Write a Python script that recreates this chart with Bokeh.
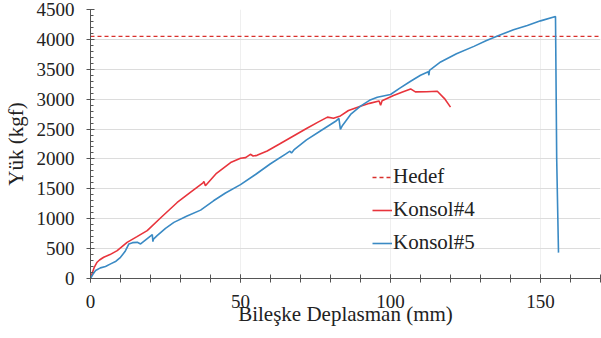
from bokeh.plotting import figure
from bokeh.models import Range1d, FixedTicker, Legend, LegendItem
from bokeh.embed import file_html
from bokeh.resources import INLINE

# Konsol#4 (red)
k4_x = [0, 0.5, 1.2, 2.2, 3, 4.4, 6.5, 8.9, 12.2, 15.5, 18.9, 23.5, 28.9, 33.5, 37.5, 37.8, 38.3,
        42, 46.7, 50, 51.7, 53.3, 54.2, 55.5, 58.9, 63, 67.5, 72, 76, 79, 81, 83.3, 86, 90, 93,
        96.2, 96.7, 97.2, 101, 104, 106.7, 108.3, 112, 115.6, 118, 120]
k4_y = [0, 80, 180, 272, 310, 355, 400, 467, 605, 700, 800, 1020, 1272, 1450, 1600, 1622, 1550,
        1760, 1939, 2011, 2022, 2078, 2050, 2060, 2133, 2250, 2380, 2510, 2620, 2700, 2680, 2720,
        2810, 2883, 2930, 2970, 2900, 2975, 3060, 3120, 3172, 3122, 3125, 3133, 3010, 2867]

# Konsol#5 (blue)
k5_x = [0, 0.8, 1.7, 3.3, 5, 6.7, 8.5, 10, 11.5, 12.8, 14, 15.6, 16.7, 18.5, 20.6, 20.8, 21,
        22.2, 25, 27.8, 32, 36.7, 41, 45, 50, 55, 60, 65, 66.5, 67, 67.8, 72, 77, 81.7, 82.8,
        83.3, 84, 86.7, 90, 93, 95.6, 100, 103, 106.7, 110, 112.6, 112.8, 113, 116.7, 122,
        127.8, 132, 136.7, 141, 145.6, 150, 155, 155.4, 156]
k5_y = [0, 70, 133, 178, 200, 245, 290, 355, 450, 578, 600, 605, 578, 650, 733, 617, 660,
        717, 840, 939, 1040, 1144, 1300, 1430, 1570, 1740, 1920, 2080, 2130, 2100, 2150, 2320,
        2480, 2630, 2680, 2494, 2560, 2744, 2883, 2980, 3033, 3078, 3180, 3300, 3400, 3460,
        3400, 3480, 3622, 3760, 3883, 3980, 4078, 4160, 4233, 4310, 4383, 2000, 433]

hedef = 4050
x_ticks = [0, 50, 100, 150]
y_ticks = [0, 500, 1000, 1500, 2000, 2500, 3000, 3500, 4000, 4500]

FONT = "Liberation Serif"
RED = "#e8343c"
BLUE = "#3a8ac4"

p = figure(width=601, height=338, output_backend="svg", toolbar_location=None,
           x_range=Range1d(0, 170), y_range=Range1d(0, 4500),
           min_border_left=90, min_border_right=1, min_border_top=9, min_border_bottom=60)
p.outline_line_color = None
p.background_fill_color = "white"

hx = [p.x_range.start, p.x_range.end]
r_h = p.line(hx, [hedef, hedef], line_color="#d9302c", line_dash="4 3", line_width=1.3)
r4 = p.line(k4_x, k4_y, line_color=RED, line_width=1.6)
r5 = p.line(k5_x, k5_y, line_color=BLUE, line_width=1.6)

p.xaxis.ticker = FixedTicker(ticks=x_ticks, minor_ticks=list(range(0, 171, 10)))
p.yaxis.ticker = FixedTicker(ticks=y_ticks, minor_ticks=list(range(0, 4501, 100)))

p.xgrid.ticker = FixedTicker(ticks=[50, 100, 150])
p.xgrid.grid_line_color = "#efefef"
p.ygrid.grid_line_color = "#dcdcdc"

p.xaxis.axis_line_color = "#555555"
p.yaxis.axis_line_color = "#555555"
p.xaxis.major_tick_line_color = "#555555"
p.yaxis.major_tick_line_color = "#555555"
p.xaxis.minor_tick_line_color = "#555555"
p.yaxis.minor_tick_line_color = "#555555"
p.xaxis.major_label_text_font = FONT
p.yaxis.major_label_text_font = FONT
p.xaxis.major_label_text_font_size = "19px"
p.yaxis.major_label_text_font_size = "19px"
p.xaxis.major_label_text_color = "#222222"
p.yaxis.major_label_text_color = "#222222"
p.xaxis.axis_label_text_font = FONT
p.yaxis.axis_label_text_font = FONT
p.xaxis.axis_label_text_font_size = "21px"
p.yaxis.axis_label_text_font_size = "21px"
p.xaxis.axis_label_text_font_style = "normal"
p.yaxis.axis_label_text_font_style = "normal"
p.xaxis.axis_label_text_color = "#222222"
p.yaxis.axis_label_text_color = "#222222"

p.xaxis.major_tick_in = 4
p.xaxis.major_tick_out = 4
p.xaxis.minor_tick_in = 4
p.xaxis.minor_tick_out = 4
p.xaxis.major_label_standoff = 12
p.xaxis.axis_label = "Bileşke Deplasman (mm)"
p.xaxis.axis_label_standoff = -9

p.yaxis.major_tick_in = 4
p.yaxis.major_tick_out = 4
p.yaxis.minor_tick_in = 3
p.yaxis.minor_tick_out = 0
p.yaxis.major_label_standoff = 12
p.yaxis.axis_label = "Yük (kgf)"
p.yaxis.axis_label_standoff = 6

legend = Legend(items=[LegendItem(label="Hedef", renderers=[r_h]),
                       LegendItem(label="Konsol#4", renderers=[r4]),
                       LegendItem(label="Konsol#5", renderers=[r5])],
                location=(282, 23), padding=0, margin=0, spacing=8,
                glyph_width=20, glyph_height=20, label_height=20, label_standoff=1,
                label_text_font=FONT, label_text_font_size="21px",
                label_text_color="#222222",
                background_fill_alpha=0, border_line_color=None)
p.add_layout(legend)

open("out.html", "w").write(file_html(p, INLINE))
